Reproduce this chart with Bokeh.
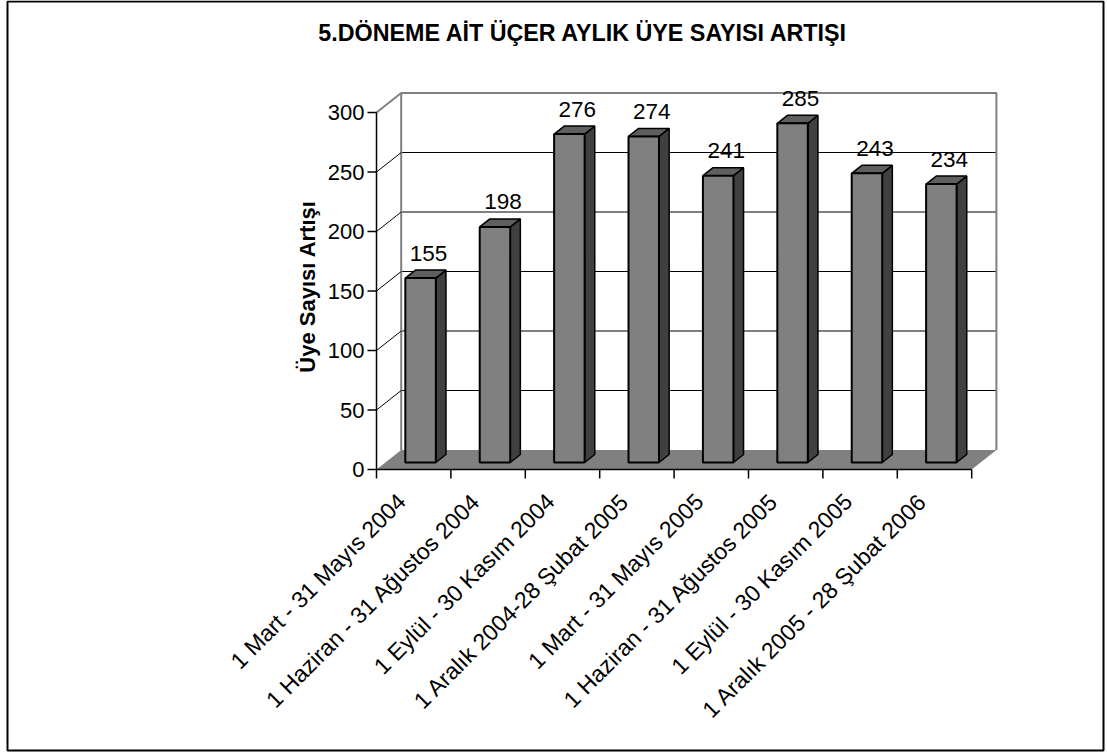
import numpy as np
from bokeh.plotting import figure
from bokeh.models import Range1d
from bokeh.core.properties import value
from bokeh.embed import file_html
from bokeh.resources import INLINE

# ---------------- data ----------------
title_text = "5.DÖNEME AİT ÜÇER AYLIK ÜYE SAYISI ARTIŞI"
y_axis_title = "Üye Sayısı Artışı"
categories = [
    "1 Mart - 31 Mayıs 2004",
    "1 Haziran - 31 Ağustos 2004",
    "1 Eylül - 30 Kasım 2004",
    "1 Aralık 2004-28 Şubat 2005",
    "1 Mart - 31 Mayıs 2005",
    "1 Haziran - 31 Ağustos 2005",
    "1 Eylül - 30 Kasım 2005",
    "1 Aralık 2005 - 28 Şubat 2006",
]
values = [155, 198, 276, 274, 241, 285, 243, 234]
y_ticks = [0, 50, 100, 150, 200, 250, 300]

# ---------------- layout (page pixels) ----------------
PAGE_OFF = 0
W, H = 1107, 753
X0, Y0 = 376.0, 469.0          # front origin of the plot box
CAT_PX = 74.4                  # px per category
UNIT_PX = 1.19                 # px per value unit
DEPTH_DX, DEPTH_DY = 24.7, 19.5
FONT = "Liberation Sans"


def ux(px):  # px -> x data units
    return px / CAT_PX


def uy(px):  # px -> y data units
    return px / UNIT_PX


def page_x(px):
    return (px - X0) / CAT_PX


def page_y(py):
    return (Y0 - py) / UNIT_PX


n = len(categories)
ymax = y_ticks[-1]
ddx, ddy = ux(DEPTH_DX), uy(DEPTH_DY)

p = figure(
    width=W, height=H,
    x_range=Range1d(page_x(PAGE_OFF), page_x(PAGE_OFF + W)),
    y_range=Range1d(page_y(PAGE_OFF + H), page_y(PAGE_OFF)),
    output_backend="svg", toolbar_location=None, min_border=0,
    x_axis_location=None, y_axis_location=None,
    background_fill_color="white", border_fill_color="white",
    outline_line_color=None,
)
p.grid.visible = False

# outer border
p.quad(left=[page_x(7)], right=[page_x(1103)], top=[page_y(1)], bottom=[page_y(750)],
       fill_color=None, line_color="black", line_width=2)

# back wall grid lines
grid_vals = y_ticks[1:-1]
p.segment(x0=[ddx] * len(grid_vals), y0=[v + ddy for v in grid_vals],
          x1=[n + ddx] * len(grid_vals), y1=[v + ddy for v in grid_vals],
          line_color="black", line_width=1)
# back wall border (gray)
p.line(x=[ddx, ddx, n + ddx, n + ddx], y=[ddy, ymax + ddy, ymax + ddy, ddy],
       line_color="#808080", line_width=2)
# side wall diagonals
p.segment(x0=[0] * len(grid_vals), y0=grid_vals,
          x1=[ddx] * len(grid_vals), y1=[v + ddy for v in grid_vals],
          line_color="black", line_width=1)
p.segment(x0=[0], y0=[ymax], x1=[ddx], y1=[ymax + ddy], line_color="#808080", line_width=2)

# floor
p.patch(x=[0, n, n + ddx, ddx], y=[0, 0, ddy, ddy], fill_color="#808080", line_color=None)

# axes
p.segment(x0=[0], y0=[ymax], x1=[0], y1=[-uy(9)], line_color="black", line_width=1.5)
p.segment(x0=[0], y0=[0], x1=[n], y1=[0], line_color="black", line_width=1.5)
p.segment(x0=[-ux(9)] * len(y_ticks), y0=y_ticks, x1=[0] * len(y_ticks), y1=y_ticks,
          line_color="black", line_width=1.5)
xt = list(range(1, n + 1))
p.segment(x0=xt, y0=[0] * len(xt), x1=xt, y1=[-uy(9)] * len(xt),
          line_color="black", line_width=1.5)

p.text(x=[-ux(12)] * len(y_ticks), y=y_ticks, text=[str(v) for v in y_ticks],
       text_font=value(FONT), text_font_size="22px", text_align="right",
       text_baseline="middle", text_color="black")

# bars
f1, f2 = 7 / 19.5, 15 / 19.5
bw = ux(30.5)
bdx, bdy = (f2 - f1) * ddx, (f2 - f1) * ddy
xc = [i + 0.5 + f1 * ddx - ux(2) for i in range(n)]
xl = [c - bw / 2 for c in xc]
xr = [c + bw / 2 for c in xc]
yb = f1 * ddy
tops = [v + yb for v in values]

side_x = [[r, r + bdx, r + bdx, r] for r in xr]
side_y = [[yb, yb + bdy, t + bdy, t] for t in tops]
cap_x = [[l, r, r + bdx, l + bdx] for l, r in zip(xl, xr)]
cap_y = [[t, t, t + bdy, t + bdy] for t in tops]

p.patches(xs=side_x, ys=side_y, fill_color="#404040", line_color="black", line_width=1.5)
p.patches(xs=cap_x, ys=cap_y, fill_color="#5f5f5f", line_color="black", line_width=1.5)
p.quad(left=xl, right=xr, bottom=[yb] * n, top=tops,
       fill_color="#808080", line_color="black", line_width=2)

# value labels
p.text(x=[c + ux(8) for c in xc], y=[t + bdy + uy(17) for t in tops],
       text=[str(v) for v in values], text_font=value(FONT), text_font_size="22.5px",
       text_align="center", text_baseline="middle", text_color="black")

# category labels
p.text(x=[i + 0.5 - ux(12) for i in range(n)], y=[-uy(28)] * n, text=categories,
       angle=np.pi / 4, text_font=value(FONT), text_font_size="23px",
       text_align="right", text_baseline="middle", text_color="black")

# y axis title
p.text(x=[page_x(307)], y=[page_y(286)], text=[y_axis_title], angle=np.pi / 2,
       text_font=value(FONT), text_font_size="22px", text_font_style="bold",
       text_align="center", text_baseline="middle", text_color="black")

# chart title
p.text(x=[page_x(583)], y=[page_y(32)], text=[title_text],
       text_font=value(FONT), text_font_size="23.3px", text_font_style="bold",
       text_align="center", text_baseline="middle", text_color="black")

open("out.html", "w").write(file_html(p, INLINE))
